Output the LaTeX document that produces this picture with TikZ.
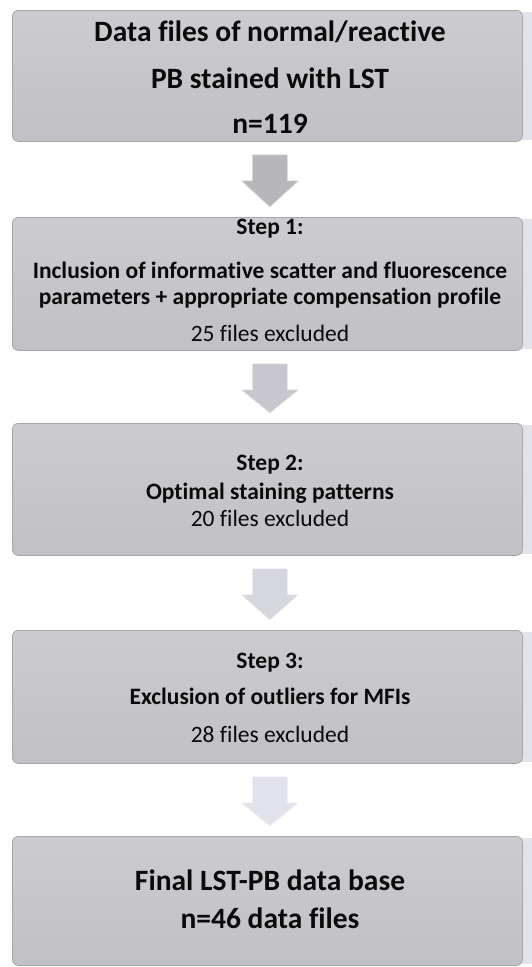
\documentclass[tikz,border=0pt]{standalone}
\usepackage{fontspec}
\setmainfont[Ligatures=CommonOff]{Carlito}
\usetikzlibrary{calc,backgrounds}

\definecolor{boxfill}{RGB}{192,192,197}
\definecolor{boxtop}{RGB}{204,204,208}
\definecolor{boxedge}{RGB}{166,166,171}
\definecolor{boxglow}{RGB}{226,226,233}
\definecolor{ink}{RGB}{10,10,10}
\definecolor{arrowA}{RGB}{182,182,187}
\definecolor{arrowB}{RGB}{199,199,205}
\definecolor{arrowC}{RGB}{214,214,223}
\definecolor{arrowD}{RGB}{226,226,236}

% block arrow from the bottom of one box to the top of the next
\newcommand\flowarrow[3]{%
  \filldraw[fill=#3, draw=white!55!#3, line width=0.6pt]
    ($(#1.south)+(-15,13)$) -- ++(35,0) -- ++(0,26) -- ++(11,0)
    -- ($(#2.north)+(2.5,-10)$)
    -- ($(#1.south)+(-26,39)$) -- ++(11,0) -- cycle;}

% light strip behind the right edge of each box
\newcommand\boxglow[1]{%
  \fill[boxglow] ($(#1.north east)+(-4,2)$) rectangle ($(#1.south east)+(9,-2)$);}

\begin{document}
\begin{tikzpicture}[x=1pt, y=-1pt,
  stepbox/.style={draw=boxedge, line width=0.8pt, rounded corners=6pt,
    top color=boxtop, bottom color=boxfill, minimum width=510pt,
    anchor=north west, inner sep=0pt},
  headline/.style={font=\bfseries\fontsize{29.5}{34}\selectfont, anchor=base,
    text=ink, inner sep=0pt},
  boldline/.style={font=\bfseries\fontsize{23.5}{28}\selectfont, anchor=base,
    text=ink, inner sep=0pt},
  plainline/.style={font=\fontsize{23.5}{28}\selectfont, anchor=base,
    text=ink, inner sep=0pt}]
\useasboundingbox (0,0) rectangle (531,967);

% boxes
\node[stepbox, minimum height=131pt] (b1) at (12,10) {};
\node[stepbox, minimum height=133pt] (b2) at (12,217) {};
\node[stepbox, minimum height=132pt] (b3) at (12,423) {};
\node[stepbox, minimum height=133pt] (b4) at (12,630) {};
\node[stepbox, minimum height=129pt] (b5) at (12,836) {};

\begin{scope}[on background layer]
  \fill[white] (0,0) rectangle (531,967);
  \boxglow{b1}\boxglow{b2}\boxglow{b3}\boxglow{b4}\boxglow{b5}
\end{scope}

% texts
\node[headline] (t1a) at (270,41) {Data files of normal/reactive};
\node[headline] (t1b) at (270,88) {PB stained with LST};
\node[headline] (t1c) at (270,133) {n=119};

\node[boldline] (t2a) at (270,234) {Step 1:};
\node[boldline] (t2b) at (270,278) {Inclusion of informative scatter and fluorescence};
\node[boldline] (t2c) at (270,304) {parameters + appropriate compensation profile};
\node[plainline] (t2d) at (270,341) {25 files excluded};

\node[boldline] (t3a) at (270,470) {Step 2:};
\node[boldline] (t3b) at (270,499) {Optimal staining patterns};
\node[plainline] (t3c) at (270,526) {20 files excluded};

\node[boldline] (t4a) at (270,668) {Step 3:};
\node[boldline] (t4b) at (270,704) {Exclusion of outliers for MFIs};
\node[plainline] (t4c) at (270,742) {28 files excluded};

\node[headline] (t5a) at (270,890) {Final LST-PB data base};
\node[headline] (t5b) at (270,928) {n=46 data files};

% connectors
\flowarrow{b1}{b2}{arrowA}
\flowarrow{b2}{b3}{arrowB}
\flowarrow{b3}{b4}{arrowC}
\flowarrow{b4}{b5}{arrowD}
\end{tikzpicture}
\end{document}
